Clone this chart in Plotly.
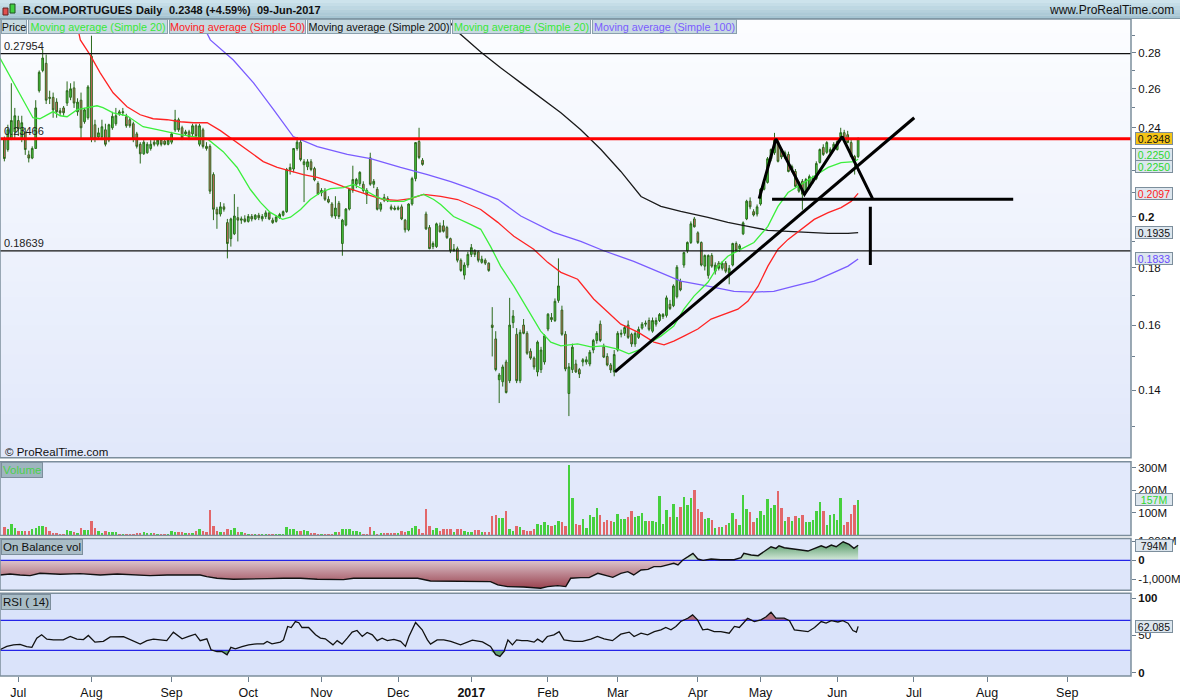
import numpy as np
import pandas as pd
import plotly.graph_objects as go

# ---------------- data ----------------
holidays = ["2016-12-26", "2017-04-14", "2017-04-17", "2017-05-01"]
calendar_start = "2016-06-27"
calendar_end = "2017-09-29"

opens = [.2343,.2295,.2347,.2380,
.2436,.2345,.2375,.2270,.2255,.2300,.2590,.2700,.2740,.2555,
.2555,.2530,.2485,.2500,.2525,.2555,.2605,.2480,.2540,.2430,
.2450,.2780,.2415,.2355,.2355,.2390,.2340,.2400,.2420,.2480,
.2475,.2455,.2440,.2420,.2370,.2320,.2275,.2280,.2300,.2330,
.2320,.2340,.2335,.2320,.2330,.2390,.2440,.2400,.2370,.2380,
.2370,.2410,.2320,.2390,.2310,.2310,.2180,.2030,.2010,.2040,
.1975,.1911,.1930,.1995,.1985,.1990,.1980,.2000,.1990,.2005,
.1990,.2000,.2015,.1985,.1980,.1995,.2005,.2020,.2200,.2205,
.2300,.2330,.2225,.2215,.2238,.2207,.2140,.2100,.2110,.2072,
.2052,.2002,.2055,.1892,.1965,.2031,.2110,.2137,.2140,.2137,
.2110,.2256,.2137,.2115,.2030,.2080,.2075,.2040,.2035,.2030,
.2040,.1985,.1946,.2052,.2162,.2333,.2245,.2010,.1955,.1880,
.1880,.1962,.1962,.1955,.1911,.1865,.1872,.1828,.1773,.1810,
.1850,.1864,.1860,.1820,.1828,.1817,.1600,.1555,.1430,.1424,
.1483,.1427,.1608,.1570,.1427,.1600,.1573,.1516,.1495,.1453,
.1460,.1483,.1587,.1625,.1615,.1683,.1650,.1570,.1390,.1460,
.1477,.1460,.1483,.1483,.1477,.1520,.1550,.1603,.1530,.1500,
.1474,.1453,.1520,.1570,.1573,.1600,.1570,.1539,.1560,.1590,
.1603,.1615,.1580,.1603,.1615,.1628,.1632,.1670,.1665,.1696,
.1750,.1810,.1864,.1896,.1990,.1934,.1896,.1806,.1772,.1846,
.1787,.1817,.1798,.1817,.1780,.1810,.1892,.1872,.1930,.1990,
.2064,.2020,.2010,.2052,.2115,.2145,.2252,.2280,.2333,.2295,
.2260,.2272,.2203,.2194,.2107,.2150,.2107,.2124,.2150,.2162,
.2235,.2305,.2282,.2282,.2295,.2295,.2352,.2376,.2366,.2328,
.2262,.2262]

highs = [.2357,.2415,.2630,.2500,
.2460,.2460,.2400,.2290,.2310,.2540,.2700,.2820,.2790,.2590,
.2580,.2550,.2500,.2510,.2640,.2630,.2640,.2550,.2580,.2500,
.2620,.2900,.2440,.2400,.2440,.2420,.2420,.2480,.2500,.2490,
.2500,.2470,.2450,.2430,.2380,.2330,.2340,.2330,.2340,.2345,
.2350,.2350,.2345,.2345,.2380,.2490,.2450,.2410,.2390,.2390,
.2420,.2420,.2420,.2400,.2330,.2320,.2190,.2040,.2060,.2055,
.1990,.1995,.2094,.2040,.2000,.2005,.2010,.2010,.2010,.2015,
.2010,.2025,.2020,.1995,.2005,.2015,.2025,.2210,.2230,.2300,
.2355,.2345,.2250,.2250,.2250,.2215,.2150,.2120,.2120,.2085,
.2060,.2085,.2065,.1990,.2035,.2120,.2220,.2165,.2195,.2150,
.2120,.2280,.2160,.2125,.2060,.2095,.2085,.2050,.2045,.2045,
.2050,.1990,.2055,.2170,.2330,.2400,.2255,.2020,.1965,.1900,
.1975,.1975,.1985,.1962,.1915,.1890,.1880,.1835,.1820,.1860,
.1890,.1870,.1865,.1845,.1835,.1820,.1660,.1580,.1450,.1475,
.1490,.1692,.1650,.1590,.1585,.1620,.1580,.1525,.1500,.1550,
.1530,.1570,.1640,.1640,.1690,.1835,.1665,.1580,.1480,.1540,
.1490,.1465,.1495,.1500,.1520,.1555,.1580,.1615,.1540,.1510,
.1480,.1520,.1580,.1585,.1600,.1615,.1575,.1580,.1595,.1610,
.1615,.1625,.1625,.1625,.1640,.1640,.1700,.1685,.1740,.1810,
.1760,.1860,.1900,.1980,.1998,.1940,.1900,.1850,.1850,.1855,
.1820,.1825,.1825,.1825,.1810,.1895,.1900,.1890,.1980,.2070,
.2080,.2030,.2050,.2120,.2150,.2260,.2300,.2375,.2345,.2300,
.2290,.2285,.2225,.2205,.2150,.2160,.2165,.2180,.2175,.2240,
.2300,.2320,.2335,.2305,.2330,.2340,.2400,.2390,.2385,.2340,
.2270,.2353]

lows = [.2240,.2285,.2340,.2345,
.2360,.2330,.2270,.2235,.2250,.2300,.2580,.2690,.2520,.2520,
.2450,.2450,.2460,.2460,.2510,.2540,.2500,.2460,.2350,.2420,
.2440,.2330,.2330,.2350,.2340,.2310,.2330,.2390,.2410,.2460,
.2460,.2400,.2400,.2330,.2300,.2230,.2270,.2275,.2290,.2310,
.2310,.2310,.2315,.2315,.2320,.2380,.2380,.2340,.2360,.2340,
.2360,.2350,.2310,.2300,.2290,.2095,.1985,.1950,.2000,.2020,
.1835,.1880,.1925,.1900,.1970,.1975,.1975,.1980,.1985,.1985,
.1980,.1990,.1985,.1970,.1975,.1990,.2000,.2015,.2180,.2190,
.2290,.2240,.2060,.2200,.2195,.2150,.2090,.2085,.2065,.2055,
.1995,.1990,.1990,.1845,.1960,.2025,.2100,.2120,.2130,.2100,
.2052,.2130,.2120,.2025,.2020,.2060,.2060,.2025,.2025,.2025,
.1985,.1935,.1940,.2045,.2150,.2250,.2220,.1945,.1870,.1870,
.1875,.1935,.1935,.1910,.1855,.1860,.1820,.1785,.1757,.1800,
.1840,.1840,.1820,.1815,.1810,.1785,.1500,.1455,.1363,.1410,
.1390,.1420,.1590,.1420,.1420,.1570,.1505,.1490,.1460,.1440,
.1450,.1475,.1580,.1610,.1610,.1675,.1565,.1455,.1327,.1450,
.1450,.1435,.1470,.1475,.1470,.1510,.1540,.1545,.1495,.1470,
.1450,.1440,.1515,.1560,.1565,.1555,.1530,.1530,.1555,.1585,
.1595,.1580,.1575,.1595,.1610,.1620,.1625,.1650,.1660,.1690,
.1715,.1800,.1855,.1890,.1955,.1890,.1805,.1790,.1760,.1800,
.1775,.1790,.1790,.1780,.1740,.1805,.1860,.1860,.1925,.1985,
.2030,.2000,.2000,.2045,.2110,.2140,.2240,.2270,.2235,.2250,
.2250,.2190,.2190,.2125,.2100,.2028,.2100,.2115,.2140,.2155,
.2230,.2265,.2275,.2275,.2290,.2290,.2345,.2335,.2325,.2260,
.2180,.2255]

closes = [.2253,.2390,.2436,.2460,
.2395,.2425,.2295,.2255,.2300,.2500,.2690,.2770,.2540,.2550,
.2490,.2480,.2475,.2475,.2590,.2600,.2525,.2530,.2400,.2490,
.2610,.2345,.2345,.2375,.2405,.2320,.2415,.2457,.2460,.2470,
.2480,.2410,.2410,.2345,.2310,.2275,.2330,.2320,.2320,.2320,
.2340,.2320,.2320,.2340,.2370,.2440,.2390,.2350,.2380,.2355,
.2410,.2360,.2410,.2310,.2300,.2107,.2030,.2010,.2040,.2030,
.1892,.1990,.2002,.1985,.1990,.1980,.2000,.1990,.2005,.1995,
.2000,.2015,.1990,.1975,.1998,.2008,.2020,.2203,.2212,.2300,
.2330,.2248,.2238,.2238,.2203,.2156,.2094,.2110,.2072,.2060,
.2002,.2035,.2000,.1985,.2031,.2115,.2158,.2158,.2190,.2110,
.2090,.2137,.2150,.2030,.2052,.2068,.2065,.2031,.2030,.2036,
.1990,.1946,.2052,.2162,.2328,.2258,.2226,.1950,.1872,.1892,
.1970,.1938,.1940,.1915,.1864,.1870,.1828,.1790,.1810,.1850,
.1876,.1850,.1828,.1832,.1817,.1790,.1592,.1460,.1444,.1468,
.1393,.1600,.1630,.1427,.1576,.1573,.1510,.1495,.1468,.1545,
.1520,.1565,.1636,.1618,.1680,.1734,.1570,.1462,.1468,.1529,
.1453,.1447,.1490,.1490,.1513,.1550,.1573,.1550,.1498,.1474,
.1459,.1506,.1573,.1573,.1592,.1560,.1539,.1573,.1586,.1603,
.1606,.1586,.1615,.1615,.1635,.1635,.1692,.1655,.1734,.1802,
.1720,.1857,.1896,.1970,.1958,.1896,.1810,.1846,.1846,.1806,
.1810,.1798,.1817,.1787,.1798,.1892,.1864,.1883,.1974,.2064,
.2040,.2006,.2040,.2115,.2145,.2252,.2295,.2343,.2240,.2260,
.2280,.2194,.2216,.2128,.2145,.2094,.2158,.2171,.2162,.2230,
.2295,.2272,.2328,.2295,.2320,.2333,.2376,.2343,.2328,.2262,
.2245,.2348]

volume_m = [36,30,50,33,21,18,21,21,28,33,
41,40,36,18,12,10,7,7,24,18,
13,10,33,24,24,64,33,18,10,18,
13,13,13,7,4,4,6,7,10,10,
13,10,10,10,4,4,4,7,21,15,
15,15,10,10,10,21,30,21,15,114,
40,18,15,15,28,25,33,15,13,10,
7,7,4,4,4,7,7,7,7,7,
7,39,27,30,18,18,24,18,10,10,
3,6,7,7,7,13,15,28,30,30,
21,21,15,7,6,36,21,7,10,10,
10,10,10,10,
18,15,18,33,40,30,10,118,40,25,
33,21,30,28,28,13,28,28,18,15,
13,25,25,16,15,15,87,92,77,77,
110,30,21,40,36,22,21,21,30,50,
44,59,47,40,44,65,59,40,314,166,
50,44,73,33,89,80,121,92,59,68,
62,59,95,74,74,83,110,80,86,101,
65,65,62,59,175,50,113,83,139,83,
127,169,133,166,201,118,104,71,77,70,
33,36,36,44,55,99,74,44,178,118,
104,59,77,110,89,161,121,135,197,121,
62,83,65,86,77,
92,59,59,68,107,148,107,44,89,95,68,166,44,59,95,133,157]

# Indicator lines: position in trading days since 1 Jul 2016, value
ma20_pos = [-5.3,4.2,6.2,10,12,14,16.9,19.7,22.6,24.3,27.2,31.2,33,35.8,39.9,43.6,46.5,50.2,54.2,58.8,
            62.8,66.6,69.5,72.3,75.8,78.1,81,83.8,86.7,89.6,93.3,96.2,99.1,103.1,106.8,110.6,113.4,116.3,119.2,121.2,
            124.9,129.8,132.7,135.5,138.4,142.2,146.2,149.9,152.8,155.7,160.5,164.3,168,172,175.2,178.7,181.5,184.4,188.1,191,
            193.9,197.9,200.8,203.6,207.4,211.1,215.1,218,220.9,224.6,228.4,232.4,236.1,239.9,241]
ma20_val = [.2771,.2450,.2445,.2481,.2460,.2455,.2491,.2501,.2511,.2501,.2475,.2460,.2440,.2405,.2391,.2376,.2366,.2357,.2347,.2285,
            .2212,.2114,.2059,.2017,.1988,.1997,.2029,.2071,.2101,.2118,.2122,.2136,.2114,.2080,.2063,.2063,.2080,.2093,.2071,.2050,
            .2000,.1968,.1948,.1881,.1806,.1733,.1653,.1580,.1545,.1533,.1539,.1530,.1533,.1523,.1508,.1523,.1545,.1564,.1597,.1653,
            .1698,.1747,.1806,.1843,.1870,.1896,.1960,.2042,.2101,.2136,.2171,.2212,.2234,.2239,.2250]

ma50_pos = [16,17.8,20.6,23.5,27.2,31.2,35,38.7,42.7,46.5,50.2,54.2,58,62.8,66.6,70.3,74.3,78.1,81.8,85.8,
            89.6,93.3,97.3,101.1,104.8,108.8,112.6,116.3,121.2,126.1,132.7,137.6,142.2,147.9,151.9,155.7,160.5,165.1,169.2,172.9,
            177.8,182.4,185.3,188.1,191,195,198.8,202.5,206.5,209.4,212.3,215.1,218,220.9,224.6,228.4,232.4,236.1,239,241]
ma50_val = [.3050,.2875,.2788,.2687,.2579,.2506,.2465,.2445,.2440,.2430,.2425,.2425,.2386,.2328,.2281,.2239,.2212,.2194,.2180,.2167,
            .2149,.2127,.2106,.2088,.2071,.2067,.2075,.2093,.2084,.2071,.2029,.1976,.1920,.1870,.1820,.1783,.1758,.1688,.1643,.1603,
            .1577,.1545,.1536,.1548,.1564,.1587,.1620,.1636,.1653,.1681,.1733,.1806,.1870,.1908,.1948,.1988,.2016,.2037,.2063,.2097]

ma100_pos = [50.8,55.1,61.7,67.5,73.2,78.9,85.8,94.4,101.1,109.7,117.4,124.1,129.8,137.6,144.2,153.6,161.4,168,176.6,181.5,
             184.4,190.1,197.9,205.4,211.1,216.8,222.6,228.4,234.1,238.1,241]
ma100_val = [.3057,.2875,.2759,.2632,.2493,.2357,.2309,.2272,.2253,.2212,.2180,.2149,.2118,.2072,.2002,.1936,.1900,.1864,.1824,.1798,
             .1783,.1751,.1733,.1715,.1712,.1715,.1733,.1751,.1783,.1806,.1833]

ma200_pos = [120,125.5,132.7,138.4,144.2,149.9,155.7,161.4,167.2,172.9,178.7,184.4,190.1,197.9,203.6,209.4,215.1,220.9,226.6,232.4,238.1,241]
ma200_val = [.3100,.2934,.2805,.2715,.2632,.2553,.2475,.2390,.2295,.2194,.2084,.2042,.2021,.1996,.1976,.1960,.1944,.1940,.1936,.1932,.1932,.1935]

rsi_pos = [-5.3,-3.3,-1.4,0.5,2.4,3.9,5.3,6.7,8.2,10.1,12.9,14.9,16.8,18.7,20.1,22,24.4,26.4,30.2,33,
           35,36.9,38.8,40.7,42.6,44.5,47,48.9,50.8,52.2,54.1,55.3,57,58.4,59.9,61,62.3,64.2,66.1,68.5,
           70.4,71.4,72.8,75.2,76.1,77.3,78.3,79.5,80.5,81.4,83.3,85.3,86.7,88.1,90.3,91.5,92.9,94.4,95.8,97.2,
           98.7,100.1,101.6,103,104.4,105.9,107.8,109.7,111.1,112.1,114,115.9,117.4,118.3,120.2,122.1,124.1,126.9,130.3,133.2,
           135.5,137,138.2,139.4,140.5,141.8,143,144.5,146.1,148,149,150.4,151.8,153.7,155.2,156.6,159.5,161.9,164.3,166.2,
           168.1,170.5,172.9,175.3,176.7,178.7,180.6,182.5,184.4,185.8,187.3,188.7,190.1,192.1,193.5,194.9,196.4,197.8,199.7,201.6,
           204,205.5,206.9,209.3,211.2,213.1,214.6,216,217.4,219.8,221.3,222.7,224.6,226.6,228.5,230.4,231.8,233.3,235.2,236.6,
           238.1,239.5,240.5,241]
rsi_val = [30.8,35.3,37.5,38,35,34,46.4,50.8,45,44,44,48.6,45,44.5,50,41,42,48,48.5,43,
           38.4,43,45,44,43,54.4,45.5,48.6,51.7,43,45.5,30.8,28.5,28.5,24.2,34,32,35,37.4,38.8,
           38.8,42,38.8,41,44,62,60.6,68.6,67,60.6,60.6,50.8,46.4,45.5,37.4,43,38.4,46.4,54.4,56.6,
           48.6,54,50.8,43,46.4,43,44.7,42,35.3,48.6,67.3,57.5,44,38.4,44,44,42,37.4,43.6,41.4,
           35.3,24.2,22,28.5,44,37.4,44,43,43,41,45,41,48.6,50.8,55,44,42,42,45,48.6,
           45.5,43,51.7,54.4,48.6,53,50.8,55,57.5,60.6,57.5,62,68.6,73,77.5,70.8,57.5,58.4,55,55,
           53,62,60.6,73,68.6,70.8,75,81,73,73,69.7,57.5,56,55,60.6,68.6,66.4,69.7,68,69.7,
           66.4,56.6,54.4,62.085]

obv_pos = [-5.3,-2.4,0.5,3.4,6.2,12,17.7,20.6,23.5,28.4,33,37.8,42.7,52.2,54.1,57,61.7,66.6,71.5,76.1,
           81,85.8,90.4,93.3,96.2,100.2,104.8,109.7,114.6,118.3,124.1,128.9,135.5,137.6,140.4,145,149.9,151.9,154.8,157.1,
           158.5,161.4,163.8,166.3,168,170.6,172.9,174.9,176.6,178.7,180.7,182.4,184.4,186.4,188.1,189.3,190.7,192.2,193.6,195,
           196.5,198.8,201.6,205.4,207.4,208.2,210.3,212.3,214,216,217.4,218.3,219.8,221.8,224.6,226.6,228.4,230.4,231.8,233.3,
           234.7,236.7,238.4,239.8,241]
obv_val = [-772,-720,-772,-807,-684,-737,-702,-737,-772,-720,-772,-807,-772,-772,-860,-947,-1000,-965,-965,-947,
           -947,-1000,-1000,-1018,-947,-947,-965,-965,-947,-1088,-1088,-1123,-1123,-1298,-1386,-1404,-1474,-1386,-1333,-1386,
           -947,-912,-912,-684,-772,-895,-684,-596,-772,-509,-474,-333,-333,-246,-158,-246,18,193,368,70,
           0,70,35,35,140,368,281,246,456,719,632,772,667,632,550,491,632,772,667,807,
           719,982,842,632,794]

levels = [0.27954, 0.23466, 0.18639]
trend_pos = [171.2, 257.1]
trend_val = [0.1453, 0.2450]
pattern_pos = [212.6, 217.4, 225.6, 236.4, 245.1]
pattern_val = [0.2075, 0.2346, 0.2093, 0.2357, 0.2076]
neck_pos = [216.3, 285.5]
neck_val = [0.2072, 0.2072]
target_pos = [244.5, 244.5]
target_val = [0.2040, 0.1810]

month_labels = ["Jul", "Aug", "Sep", "Oct", "Nov", "Dec", "<b>2017</b>", "Feb", "Mar",
                "Apr", "May", "Jun", "Jul", "Aug", "Sep"]

# ---------------- calendar / axis ----------------
cal = pd.bdate_range(calendar_start, calendar_end)
cal = cal[~cal.isin(pd.to_datetime(holidays))]
origin = int(cal.searchsorted(pd.Timestamp("2016-07-01")))
pos_all = np.arange(len(cal)) - origin
n = len(closes)
bx = pos_all[:n]
ser = pd.Series(pos_all, index=cal)
month_first = ser.groupby([cal.year, cal.month]).first().values[1:]

XR = [-5.25, 319.3]
FONT = "Liberation Sans, Arial, sans-serif"
UP_FILL, DOWN_FILL, OUTLINE = "#46d03e", "#e2676a", "#2b6a1c"
BLUE = "#2424e8"

D_MAIN = [0.33232, 1.0]
D_VOL = [0.21396, 0.32625]
D_OBV = [0.13050, 0.20941]
D_RSI = [0.0, 0.12595]

fig = go.Figure()

for px_, pv_, col in [(ma200_pos, ma200_val, "#1a1a1a"), (ma100_pos, ma100_val, "#7a5cff"),
                      (ma50_pos, ma50_val, "#ff2424"), (ma20_pos, ma20_val, "#3cef3c")]:
    fig.add_trace(go.Scatter(x=px_, y=pv_, mode="lines", line=dict(color=col, width=1.3),
                             hoverinfo="skip", xaxis="x", yaxis="y"))

fig.add_trace(go.Candlestick(
    x=bx, open=opens, high=highs, low=lows, close=closes,
    increasing=dict(fillcolor=UP_FILL, line=dict(color=OUTLINE, width=1)),
    decreasing=dict(fillcolor=DOWN_FILL, line=dict(color=OUTLINE, width=1)),
    whiskerwidth=0, hoverinfo="skip", xaxis="x", yaxis="y"))

for lv, col, w in zip(levels, ["#111111", "#ff0000", "#111111"], [1.3, 3, 1.3]):
    fig.add_trace(go.Scatter(x=XR, y=[lv, lv], mode="lines", line=dict(color=col, width=w),
                             hoverinfo="skip", xaxis="x", yaxis="y"))

for dx, dy in [(trend_pos, trend_val), (pattern_pos, pattern_val), (neck_pos, neck_val), (target_pos, target_val)]:
    fig.add_trace(go.Scatter(x=dx, y=dy, mode="lines", line=dict(color="#000000", width=3),
                             hoverinfo="skip", xaxis="x", yaxis="y"))

vcolors = [UP_FILL if c >= o else DOWN_FILL for o, c in zip(opens, closes)]
fig.add_trace(go.Bar(x=bx, y=volume_m, marker=dict(color=vcolors, line=dict(width=0)), width=0.7,
                     hoverinfo="skip", xaxis="x", yaxis="y2"))

obv_arr = np.array(obv_val, dtype=float)
fig.add_trace(go.Scatter(x=obv_pos, y=np.minimum(obv_arr, 0), mode="lines", line=dict(width=0),
                         fill="tozeroy",
                         fillgradient=dict(type="vertical", start=-1500, stop=0,
                                           colorscale=[[0, "#983f4c"], [1, "#dcc3cc"]]),
                         hoverinfo="skip", xaxis="x", yaxis="y3"))
fig.add_trace(go.Scatter(x=obv_pos, y=np.maximum(obv_arr, 0), mode="lines", line=dict(width=0),
                         fill="tozeroy",
                         fillgradient=dict(type="vertical", start=0, stop=1000,
                                           colorscale=[[0, "#d6eadc"], [1, "#4f9560"]]),
                         hoverinfo="skip", xaxis="x", yaxis="y3"))
fig.add_trace(go.Scatter(x=XR, y=[0, 0], mode="lines", line=dict(color=BLUE, width=1.3),
                         hoverinfo="skip", xaxis="x", yaxis="y3"))
fig.add_trace(go.Scatter(x=obv_pos, y=obv_val, mode="lines", line=dict(color="#111111", width=1.4),
                         hoverinfo="skip", xaxis="x", yaxis="y3"))

rsi_arr = np.array(rsi_val, dtype=float)
fig.add_trace(go.Scatter(x=rsi_pos, y=[70] * len(rsi_pos), mode="lines", line=dict(width=0),
                         hoverinfo="skip", xaxis="x", yaxis="y4"))
fig.add_trace(go.Scatter(x=rsi_pos, y=np.maximum(rsi_arr, 70), mode="lines", line=dict(width=0),
                         fill="tonexty", fillcolor="rgba(170,90,100,0.85)",
                         hoverinfo="skip", xaxis="x", yaxis="y4"))
fig.add_trace(go.Scatter(x=rsi_pos, y=np.minimum(rsi_arr, 30), mode="lines", line=dict(width=0),
                         hoverinfo="skip", xaxis="x", yaxis="y4"))
fig.add_trace(go.Scatter(x=rsi_pos, y=[30] * len(rsi_pos), mode="lines", line=dict(width=0),
                         fill="tonexty", fillcolor="rgba(80,150,90,0.85)",
                         hoverinfo="skip", xaxis="x", yaxis="y4"))
for lv in (70, 30):
    fig.add_trace(go.Scatter(x=XR, y=[lv, lv], mode="lines", line=dict(color=BLUE, width=1.3),
                             hoverinfo="skip", xaxis="x", yaxis="y4"))
fig.add_trace(go.Scatter(x=rsi_pos, y=rsi_val, mode="lines", line=dict(color="#111111", width=1.3),
                         hoverinfo="skip", xaxis="x", yaxis="y4"))

# ---------------- backgrounds & frames ----------------
shapes = []
def hexmix(c1, c2, t):
    a = [int(c1[i:i + 2], 16) for i in (1, 3, 5)]
    b = [int(c2[i:i + 2], 16) for i in (1, 3, 5)]
    return "#" + "".join("%02x" % round(a[k] + (b[k] - a[k]) * t) for k in range(3))

NS = 30
for k in range(NS):
    y0 = D_MAIN[1] - (D_MAIN[1] - D_MAIN[0]) * k / NS
    y1 = D_MAIN[1] - (D_MAIN[1] - D_MAIN[0]) * (k + 1) / NS
    shapes.append(dict(type="rect", xref="paper", yref="paper", x0=0, x1=1, y0=y1, y1=y0 + 0.001,
                       fillcolor=hexmix("#fcfdff", "#e1e8fa", k / (NS - 1)), line=dict(width=0), layer="below"))
for dom, col in [(D_VOL, "#e2e9fb"), (D_OBV, "#dee6fa"), (D_RSI, "#dae3fa")]:
    shapes.append(dict(type="rect", xref="paper", yref="paper", x0=0, x1=1, y0=dom[0], y1=dom[1],
                       fillcolor=col, line=dict(width=0), layer="below"))
for dom in (D_MAIN, D_VOL, D_OBV, D_RSI):
    shapes.append(dict(type="rect", xref="paper", yref="paper", x0=0, x1=1, y0=dom[0], y1=dom[1],
                       fillcolor="rgba(0,0,0,0)", line=dict(color="#7c8e9c", width=1.5), layer="above"))

PX_Y = lambda py: (678 - py) / 659.0
PX_X = lambda px: px / 1131.0
HB = 6
for k in range(HB):
    shapes.append(dict(type="rect", xref="paper", yref="paper", x0=PX_X(0), x1=PX_X(1180),
                       y0=PX_Y(19 * (k + 1) / HB), y1=PX_Y(19 * k / HB) + 0.0005,
                       fillcolor=hexmix("#cde3ec", "#a5c4d2", k / (HB - 1)), line=dict(width=0), layer="above"))
shapes.append(dict(type="line", xref="paper", yref="paper", x0=PX_X(0), x1=PX_X(1180), y0=PX_Y(18.5), y1=PX_Y(18.5),
                   line=dict(color="#7f97a5", width=1), layer="above"))
shapes.append(dict(type="rect", xref="paper", yref="paper", x0=PX_X(3), x1=PX_X(8), y0=PX_Y(15), y1=PX_Y(8),
                   fillcolor="#e05050", line=dict(color="#602020", width=1), layer="above"))
shapes.append(dict(type="rect", xref="paper", yref="paper", x0=PX_X(10), x1=PX_X(15), y0=PX_Y(13), y1=PX_Y(4),
                   fillcolor="#40d040", line=dict(color="#205020", width=1), layer="above"))

ann = []
hdr_font = dict(family=FONT, size=11, color="#111111")
hdr_parts = [("<b>B.COM.PORTUGUES</b>", 21), ("<b>Daily</b>", 134), ("<b>0.2348 (+4.59%)</b>", 167),
             ("<b>09-Jun-2017</b>", 255)]
for t, xl in hdr_parts:
    ann.append(dict(xref="paper", yref="paper", x=PX_X(xl), y=PX_Y(9.5), xanchor="left", yanchor="middle",
                    text=t, showarrow=False, font=hdr_font))
ann.append(dict(xref="paper", yref="paper", x=PX_X(1176), y=PX_Y(9.5), xanchor="right", yanchor="middle",
                text="www.ProRealTime.com", showarrow=False, font=dict(family=FONT, size=12, color="#111111")))

leg_text = ["Price", "Moving average (Simple 20)", "Moving average (Simple 50)", "Moving average (Simple 200)",
            "Moving average (Simple 20)", "Moving average (Simple 100)"]
leg_col = ["#111111", "#38e838", "#ff2020", "#111111", "#38e838", "#7a5cff"]
leg_left = [1, 28, 169, 307, 452, 592]
leg_w = [26, 140, 137, 144, 139, 145]
for t, c, l, w in zip(leg_text, leg_col, leg_left, leg_w):
    ann.append(dict(xref="paper", yref="paper", x=PX_X(l), y=PX_Y(27), xanchor="left", yanchor="middle",
                    text=t, showarrow=False, width=w - 2, height=13, align="center",
                    bgcolor="#c7d9e1", bordercolor="#8aa0ad", borderwidth=1, borderpad=0,
                    font=dict(family=FONT, size=10.8, color=c)))

for lv in levels:
    ann.append(dict(xref="paper", yref="y", x=PX_X(2), y=np.log10(lv), xanchor="left", yanchor="bottom",
                    text=f"{lv:.5f}", showarrow=False, font=dict(family=FONT, size=11, color="#222222")))
ann.append(dict(xref="paper", yref="paper", x=PX_X(3), y=PX_Y(453), xanchor="left", yanchor="middle",
                text="© ProRealTime.com", showarrow=False, font=dict(family=FONT, size=11.5, color="#111111")))
ann.append(dict(xref="paper", yref="paper", x=PX_X(1), y=D_VOL[1] - 0.001, xanchor="left", yanchor="top",
                text="Volume", showarrow=False, bgcolor="#9fb5c0", bordercolor="#7c8e9c", borderwidth=1, borderpad=1,
                font=dict(family=FONT, size=11.5, color="#4ad04a")))
ann.append(dict(xref="paper", yref="paper", x=PX_X(1), y=D_OBV[1] - 0.001, xanchor="left", yanchor="top",
                text="On Balance vol", showarrow=False, bgcolor="#a9bdc7", bordercolor="#7c8e9c", borderwidth=1,
                borderpad=1, font=dict(family=FONT, size=11.5, color="#111111")))
ann.append(dict(xref="paper", yref="paper", x=PX_X(1), y=D_RSI[1] - 0.001, xanchor="left", yanchor="top",
                text="RSI ( 14)", showarrow=False, bgcolor="#a9bdc7", bordercolor="#7c8e9c", borderwidth=1,
                borderpad=1, font=dict(family=FONT, size=11.5, color="#111111")))

def vbox(yref, yval, text, color, bg="#dde6ee", yshift=0):
    return dict(xref="paper", yref=yref, x=PX_X(1135), y=yval, xanchor="left", yanchor="middle",
                text=text, showarrow=False, width=36, height=11, borderpad=0, yshift=yshift,
                bgcolor=bg, bordercolor="#7c8e9c", borderwidth=1,
                font=dict(family=FONT, size=10.5, color=color))
ann.append(vbox("y", np.log10(closes[-1]), f"{closes[-1]:.4f}", "#111111", bg="#f4c417"))
ann.append(vbox("y", np.log10(ma20_val[-1]), f"{ma20_val[-1]:.4f}", "#2ed82e", yshift=5))
ann.append(vbox("y", np.log10(ma20_val[-1]), f"{ma20_val[-1]:.4f}", "#2ed82e", yshift=-7))
ann.append(vbox("y", np.log10(ma50_val[-1]), f"{ma50_val[-1]:.4f}", "#ff2020"))
ann.append(vbox("y", np.log10(ma200_val[-1]), f"{ma200_val[-1]:.4f}", "#111111"))
ann.append(vbox("y", np.log10(ma100_val[-1]), f"{ma100_val[-1]:.4f}", "#6a4cff"))
ann.append(vbox("y2", volume_m[-1], f"{volume_m[-1]}M", "#2ed82e"))
ann.append(vbox("y3", obv_val[-1], f"{obv_val[-1]}M", "#111111"))
ann.append(vbox("y4", rsi_val[-1], f"{rsi_val[-1]:.3f}", "#111111"))

tick_font = dict(family=FONT, size=11.5, color="#111111")
common_y = dict(side="right", anchor="x", showgrid=False, zeroline=False, showline=False,
                ticks="outside", ticklen=4, tickcolor="#6d7f8f", tickfont=tick_font, fixedrange=True)

fig.update_layout(
    width=1180, height=700, margin=dict(l=0, r=49, t=19, b=22),
    paper_bgcolor="#ffffff", plot_bgcolor="rgba(0,0,0,0)",
    showlegend=False, bargap=0, shapes=shapes, annotations=ann,
    xaxis=dict(domain=[0, 1], range=XR, anchor="y4", tickmode="array", tickvals=list(month_first),
               ticktext=month_labels, ticks="outside", ticklen=5, tickcolor="#6d7f8f",
               showgrid=False, zeroline=False, showline=False, tickfont=dict(family=FONT, size=12.5, color="#111111"),
               rangeslider=dict(visible=False), fixedrange=True),
    yaxis=dict(domain=D_MAIN, type="log", range=[-0.91424, -0.52270], tickmode="array",
               tickvals=[0.14, 0.16, 0.18, 0.2, 0.24, 0.26, 0.28],
               ticktext=["0.14", "0.16", "0.18", "<b>0.2</b>", "0.24", "0.26", "0.28"],
               minor=dict(tickmode="array", tickvals=[0.13, 0.15, 0.17, 0.19, 0.21, 0.22, 0.23, 0.25, 0.27, 0.29],
                          ticks="outside", ticklen=3, tickcolor="#6d7f8f"),
               **common_y),
    yaxis2=dict(domain=D_VOL, range=[-2.2, 326.7], tickmode="array", tickvals=[100, 200, 300],
                ticktext=["100M", "200M", "300M"], **common_y),
    yaxis3=dict(domain=D_OBV, range=[-1578.9, 1157.9], tickmode="array", tickvals=[-1000, 0, 1000],
                ticktext=["-1,000M", "<b>0</b>", "1,000M"], **common_y),
    yaxis4=dict(domain=D_RSI, range=[-4.27, 106.4], tickmode="array", tickvals=[0, 50, 100],
                ticktext=["<b>0</b>", "50", "<b>100</b>"], **common_y),
)

fig.write_html("out.html", config={"displayModeBar": False},
               post_script="document.body.style.margin='0px';document.body.style.padding='0px';")
